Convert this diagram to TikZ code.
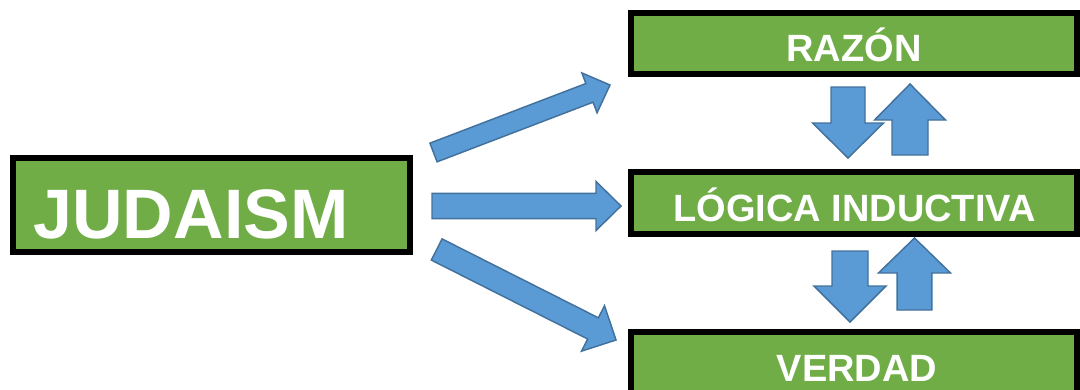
\documentclass[tikz,border=0pt]{standalone}
\usepackage{fontspec}
\setmainfont{Liberation Sans}
\usetikzlibrary{calc}
\definecolor{boxgreen}{HTML}{70AD47}
\definecolor{arrowfill}{HTML}{5B9BD5}
\definecolor{arrowline}{HTML}{41719C}
\tikzset{
  box/.style={draw=black, line width=4.5pt, fill=boxgreen, rectangle, inner sep=0pt},
  bigtxt/.style={text=white, font=\fontsize{52.5pt}{60pt}\selectfont\bfseries, anchor=base, inner sep=0pt},
  txt/.style={text=white, font=\fontsize{28.5pt}{34pt}\selectfont\bfseries, anchor=base, inner sep=0pt},
  barrow/.style={fill=arrowfill, draw=arrowline, line width=1.1pt, line join=miter}
}
% #1 start, #2 tip, #3 shaft half width, #4 head half width, #5 head length
\newcommand\blockarrow[5]{%
  \coordinate (hb) at ($(#2)!#5!(#1)$);
  \draw[barrow] ($(#1)!#3!90:(#2)$) -- ($(hb)!#3!90:(#2)$) -- ($(hb)!#4!90:(#2)$)
    -- (#2) -- ($(hb)!#4!-90:(#2)$) -- ($(hb)!#3!-90:(#2)$) -- ($(#1)!#3!-90:(#2)$) -- cycle;
}
\begin{document}
\begin{tikzpicture}[x=0.75pt, y=-0.75pt]
\useasboundingbox (0,0) rectangle (1080,389);
\clip (0,0) rectangle (1080,389);
% boxes
\node[box, minimum width=297.75pt, minimum height=70.5pt] (judaism) at (211.5,205) {};
\node[box, minimum width=334.5pt, minimum height=45.75pt] (razon) at (854,43.5) {};
\node[box, minimum width=334.5pt, minimum height=46.5pt] (logica) at (854,203) {};
\node[box, minimum width=334.5pt, minimum height=48pt] (verdad) at (854,364) {};
% texts
\node[bigtxt] (tjud) at (191,238) {JUDAISM};
\node[txt] (traz) at (854,61) {RAZÓN};
\node[txt] (tlog) at (854.5,221) {LÓGICA INDUCTIVA};
\node[txt] (tver) at (857,381) {VERDAD};
% connector end points
\coordinate (a1s) at (433.5,152.5); \coordinate (a1t) at (610,85);
\coordinate (a2s) at (432,206);     \coordinate (a2t) at (621,206);
\coordinate (a3s) at (436.7,249.5); \coordinate (a3t) at (616,340);
\coordinate (d1s) at (848,87);  \coordinate (d1t) at (848,158);
\coordinate (u1s) at (910,155); \coordinate (u1t) at (910,84);
\coordinate (d2s) at (850,251); \coordinate (d2t) at (850,322);
\coordinate (u2s) at (914.5,310); \coordinate (u2t) at (914.5,238);
% arrows from JUDAISM
\blockarrow{a1s}{a1t}{7.5pt}{16pt}{16.5pt}
\blockarrow{a2s}{a2t}{9.4pt}{18.4pt}{18.75pt}
\blockarrow{a3s}{a3t}{8.9pt}{19.1pt}{19.3pt}
% vertical arrows
\blockarrow{d1s}{d1t}{12.75pt}{26.6pt}{26.25pt}
\blockarrow{u1s}{u1t}{13.5pt}{26.6pt}{27pt}
\blockarrow{d2s}{d2t}{13.5pt}{27pt}{27pt}
\blockarrow{u2s}{u2t}{13.1pt}{27pt}{26.25pt}
\end{tikzpicture}
\end{document}
